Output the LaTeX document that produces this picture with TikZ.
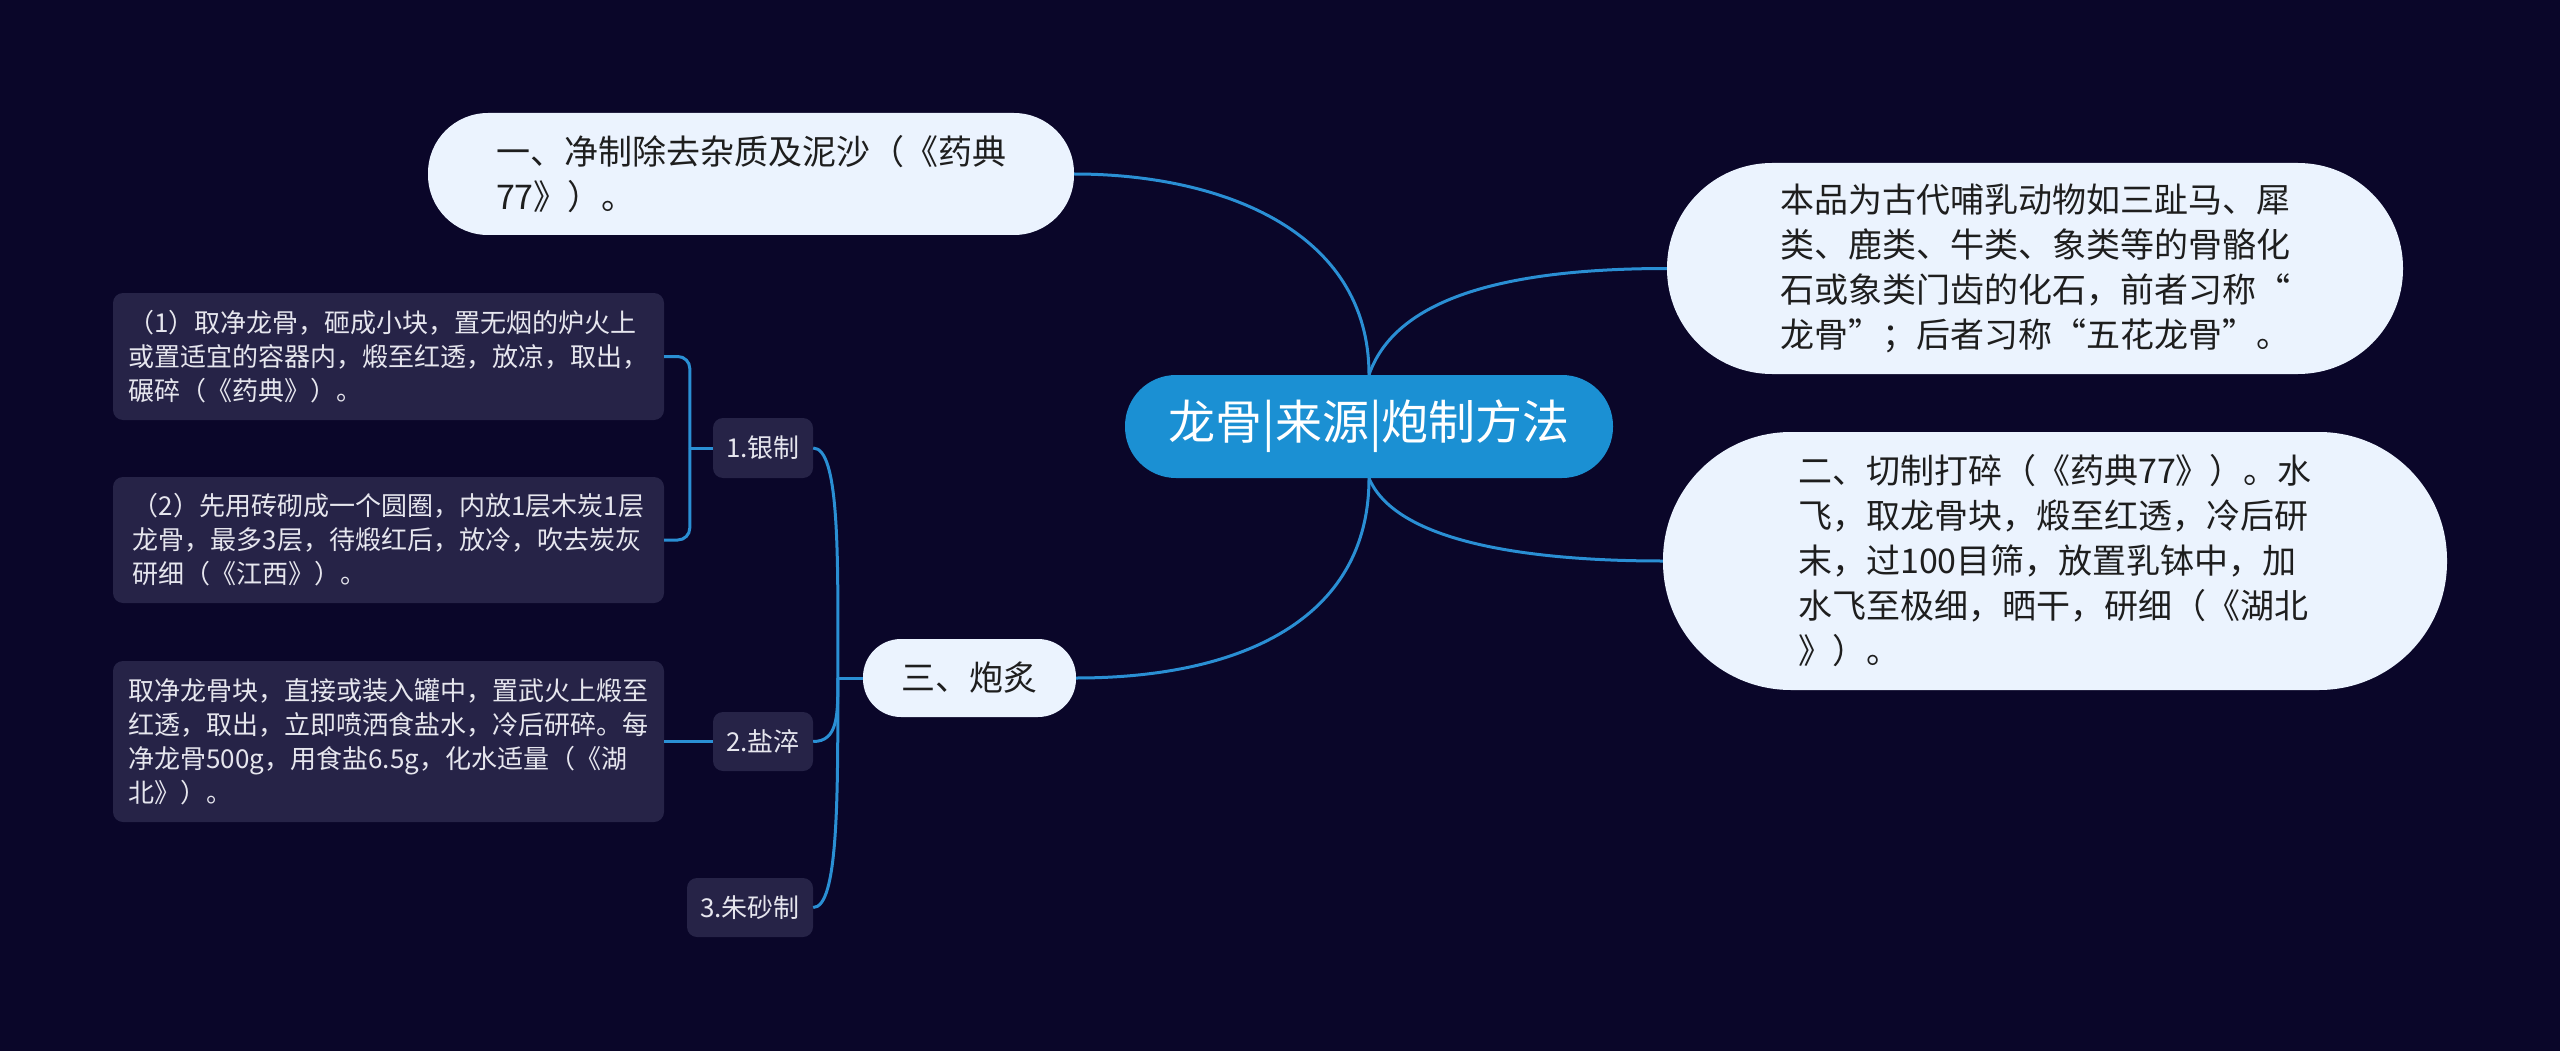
\documentclass[tikz,border=0pt]{standalone}
\usepackage{fontspec}
\newfontfamily\cjk{Noto Sans CJK SC}
\definecolor{bg}{HTML}{0A0629}
\definecolor{mainblue}{HTML}{1B90D3}
\definecolor{lightfill}{HTML}{EBF3FE}
\definecolor{leaffill}{HTML}{262347}
\definecolor{linecol}{HTML}{2A8FD4}
\definecolor{textdark}{HTML}{1E1E1E}
\definecolor{leaftext}{HTML}{E6E6EE}
\begin{document}
\begin{tikzpicture}[x=1pt,y=-1pt,
  every node/.style={font=\cjk, inner sep=0pt},
  conn/.style={draw=linecol, line width=3pt},
  lightnode/.style={fill=lightfill, text=textdark, align=left, font=\cjk\fontsize{34}{45}\selectfont},
  leafbox/.style={fill=leaffill, rounded corners=10pt, text=leaftext, align=left, font=\cjk\fontsize{26}{34}\selectfont},
  labelbox/.style={fill=leaffill, rounded corners=10pt, text=leaftext, font=\cjk\fontsize{26}{32}\selectfont}]
\fill[bg] (0,0) rectangle (2560,1051);
\useasboundingbox (0,0) rectangle (2560,1051);

% centre
\node[fill=mainblue, text=white, minimum width=488, minimum height=103, rounded corners=51,
      font=\cjk\fontsize{47}{56}\selectfont] (c) at (1369,426.5) {龙骨|来源|炮制方法};

% main branches
\node[lightnode, minimum width=646, minimum height=122, rounded corners=60] (n1) at (751,174)
  {一、净制除去杂质及泥沙（《药典\\77》）。};
\node[lightnode, minimum width=736, minimum height=211, rounded corners=105] (n2) at (2035,268.5)
  {本品为古代哺乳动物如三趾马、犀\\类、鹿类、牛类、象类等的骨骼化\\石或象类门齿的化石，前者习称“\\龙骨”；后者习称“五花龙骨”。};
\node[lightnode, minimum width=784, minimum height=258, rounded corners=128] (n3) at (2055,561)
  {二、切制打碎（《药典77》）。水\\飞，取龙骨块，煅至红透，冷后研\\末，过100目筛，放置乳钵中，加\\水飞至极细，晒干，研细（《湖北\\》）。};
\node[lightnode, minimum width=213, minimum height=78, rounded corners=38] (n4) at (969.5,678)
  {三、炮炙};

% sub branches
\node[labelbox, minimum width=100, minimum height=60] (l1) at (763,448) {1.银制};
\node[labelbox, minimum width=100, minimum height=59] (l2) at (763,741.5) {2.盐淬};
\node[labelbox, minimum width=126, minimum height=59] (l3) at (750,907.5) {3.朱砂制};

% leaves
\node[leafbox, minimum width=551, minimum height=127] (la) at (388.5,356.5)
  {（1）取净龙骨，砸成小块，置无烟的炉火上\\或置适宜的容器内，煅至红透，放凉，取出，\\碾碎（《药典》）。};
\node[leafbox, minimum width=551, minimum height=126] (lb) at (388.5,540)
  {（2）先用砖砌成一个圆圈，内放1层木炭1层\\龙骨，最多3层，待煅红后，放冷，吹去炭灰\\研细（《江西》）。};
\node[leafbox, minimum width=551, minimum height=161] (lc) at (388.5,741.5)
  {取净龙骨块，直接或装入罐中，置武火上煅至\\红透，取出，立即喷洒食盐水，冷后研碎。每\\净龙骨500g，用食盐6.5g，化水适量（《湖\\北》）。};

% connectors from centre
\draw[conn] (c.north) .. controls (1369,230) and (1220,174) .. (n1.east);
\draw[conn] (c.north) .. controls (1395,300) and (1500,268.5) .. (n2.west);
\draw[conn] (c.south) .. controls (1395,540) and (1520,561) .. (n3.west);
\draw[conn] (c.south) .. controls (1369,620) and (1240,678) .. (n4.east);

% connectors of 三、炮炙
\coordinate (j) at ([xshift=-25pt]n4.west);
\draw[conn] (n4.west) -- (j);
\draw[conn] (j) .. controls (838,560) and (840,448) .. (l1.east);
\draw[conn] (j) .. controls (838,715) and (838,741.5) .. (l2.east);
\draw[conn] (j) .. controls (838,800) and (838,907.5) .. (l3.east);

% bracket of 1.银制
\coordinate (k) at ([xshift=-23pt]l1.west);
\draw[conn, rounded corners=12pt] (la.east) -| (k);
\draw[conn, rounded corners=12pt] (lb.east) -| (k);
\draw[conn] (k) -- (l1.west);
\draw[conn] (lc.east) -- (l2.west);
\end{tikzpicture}
\end{document}
